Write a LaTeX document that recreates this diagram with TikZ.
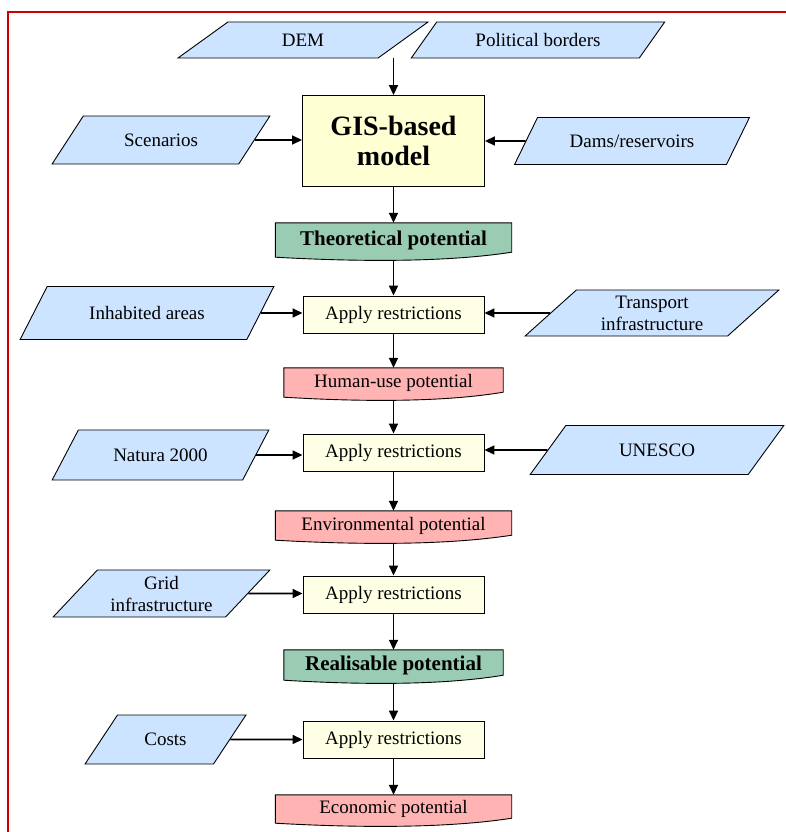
\documentclass[tikz,border=0pt]{standalone}
\usepackage{fontspec}
\setmainfont{Liberation Serif}
\usetikzlibrary{arrows.meta,calc,shapes.geometric,backgrounds}
\definecolor{inputblue}{RGB}{204,228,255}
\definecolor{stepyellow}{RGB}{255,255,229}
\definecolor{modelyellow}{RGB}{255,255,212}
\definecolor{potgreen}{RGB}{153,204,179}
\definecolor{potred}{RGB}{255,179,179}
\definecolor{framered}{RGB}{204,0,0}

\begin{document}
\begin{tikzpicture}[x=1pt,y=-1pt,>={Triangle[length=10pt,width=9pt]},
  every node/.style={font=\fontsize{19}{22}\selectfont,inner sep=2pt},
  input/.style={trapezium,trapezium left angle=47,trapezium right angle=133,
    trapezium stretches=true,draw,line width=0.9pt,fill=inputblue,align=center},
  restrict/.style={rectangle,draw,line width=0.9pt,fill=stepyellow,
    minimum width=181pt,minimum height=37pt},
  potential/.style={rectangle,minimum width=236pt,minimum height=29pt},
  flow/.style={->,line width=1.6pt}]
  \useasboundingbox (0,0) rectangle (786,832);
  \draw[framered,line width=2pt] (8,832) -- (8,12) -- (786,12);
  % model and its inputs
  \node[input,minimum width=252pt,minimum height=36pt] (dem) at (303,40) {DEM};
  \node[input,minimum width=254pt,minimum height=36pt] (pb) at (538,40)
    {Political borders};
  \node[draw,line width=0.9pt,fill=modelyellow,minimum width=182pt,
    minimum height=91pt,align=center,font=\fontsize{28}{30}\selectfont\bfseries]
    (gis) at (393.5,141) {GIS-based\\model};
  \node[input,minimum width=218pt,minimum height=48pt] (scen) at (161,140)
    {Scenarios};
  \node[input,minimum width=235pt,minimum height=47pt] (dams) at (632,141)
    {Dams/reservoirs};
  \draw[flow] (gis.north |- dem.south) -- (gis.north);
  \draw[flow] (scen) -- (scen -| gis.west);
  \draw[flow] (dams) -- (dams -| gis.east);
  % restriction steps
  \node[potential,minimum height=34pt,font=\fontsize{21}{23}\selectfont\bfseries]
    (theo) at (393.5,240) {Theoretical potential};
  \node[restrict] (apply1) at (393.5,314.5) {Apply restrictions};
  \node[input,minimum width=254pt,minimum height=53pt] (inhab) at (147,313)
    {Inhabited areas};
  \node[input,minimum width=254pt,minimum height=46pt] (trans) at (652,313)
    {Transport\\infrastructure};
  \node[potential,minimum width=219pt] (human) at (393.5,382.5)
    {Human-use potential};
  \node[restrict] (apply2) at (393.5,452.5) {Apply restrictions};
  \node[input,minimum width=217pt,minimum height=50pt] (natura) at (160.5,455)
    {Natura 2000};
  \node[input,minimum width=254pt,minimum height=49pt] (unesco) at (657,450)
    {UNESCO};
  \node[potential] (env) at (393.5,525.5) {Environmental potential};
  \node[restrict] (apply3) at (393.5,594.5) {Apply restrictions};
  \node[input,minimum width=217pt,minimum height=47pt] (grid) at (161.5,593.5)
    {Grid\\infrastructure};
  \node[potential,minimum width=219pt,minimum height=30pt,
    font=\fontsize{21}{23}\selectfont\bfseries] (real) at (393.5,665)
    {Realisable potential};
  \node[restrict] (apply4) at (393.5,739.5) {Apply restrictions};
  \node[input,minimum width=161pt,minimum height=49pt] (costs) at (165.5,739.5)
    {Costs};
  \node[potential,minimum height=28pt] (econ) at (393.5,809) {Economic potential};
  \begin{scope}[on background layer]
    \foreach \pot/\col in {theo/potgreen,human/potred,env/potred,real/potgreen,econ/potred}
      \draw[line width=0.9pt,fill=\col] (\pot.south west) -- (\pot.north west)
        -- (\pot.north east) -- ([yshift=5pt]\pot.south east)
        .. controls ($(\pot.south west)!0.7!(\pot.south east)+(0,6)$)
        and ($(\pot.south west)!0.3!(\pot.south east)+(0,4)$) .. (\pot.south west)
        -- cycle;
  \end{scope}
  \draw[flow] (gis) -- (theo);
  \draw[flow] ([yshift=-3pt]theo.south) -- (apply1);
  \draw[flow] (inhab) -- (inhab -| apply1.west);
  \draw[flow] (trans) -- (trans -| apply1.east);
  \draw[flow] (apply1) -- (human);
  \draw[flow] ([yshift=-3pt]human.south) -- (apply2);
  \draw[flow] (natura) -- (natura -| apply2.west);
  \draw[flow] (unesco) -- (unesco -| apply2.east);
  \draw[flow] (apply2) -- (env);
  \draw[flow] ([yshift=-3pt]env.south) -- (apply3);
  \draw[flow] (grid) -- (grid -| apply3.west);
  \draw[flow] (apply3) -- (real);
  \draw[flow] ([yshift=-3pt]real.south) -- (apply4);
  \draw[flow] (costs) -- (costs -| apply4.west);
  \draw[flow] (apply4) -- (econ);
\end{tikzpicture}
\end{document}
